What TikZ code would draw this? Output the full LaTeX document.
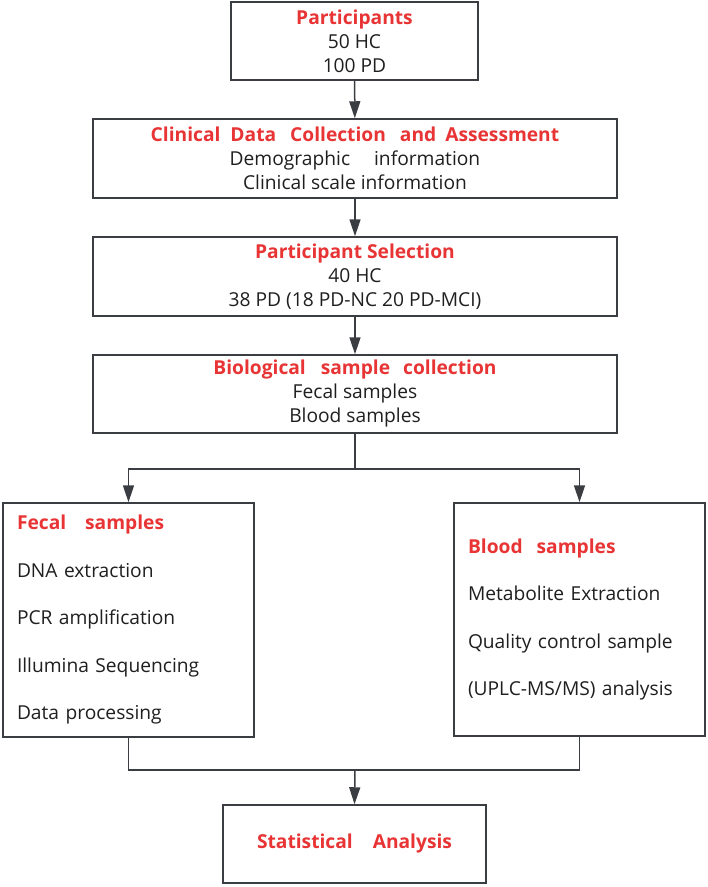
\documentclass[tikz,border=0pt]{standalone}
\usepackage{fontspec}
\setmainfont{Open Sans}
\usepackage{xcolor}
\usetikzlibrary{positioning, arrows.meta}
\definecolor{titlered}{RGB}{232,52,52}
\definecolor{linegray}{RGB}{58,62,66}
\newcommand{\boxtitle}[1]{{\bfseries\color{titlered}#1}}

\begin{document}
\begin{tikzpicture}[
 x=1pt, y=-1pt,
 stage/.style={rectangle, draw=linegray, line width=1.5pt, fill=white,
   minimum width=524pt, minimum height=79pt, align=center, inner sep=0pt,
   font=\fontsize{19.2}{24}\selectfont, text=black!88},
 branch/.style={rectangle, draw=linegray, line width=1.5pt, fill=white,
   text width=223pt, inner xsep=14pt, inner ysep=0pt, minimum height=234pt,
   align=left, font=\fontsize{19.2}{47.5}\selectfont, text=black!88},
 flow_edge/.style={-{Triangle[width=11pt,length=17pt]}, line width=1.5pt, draw=linegray},
 link_edge/.style={line width=1.5pt, draw=linegray}
]
\useasboundingbox (0,0) rectangle (708,887);

\node[stage, minimum width=247pt, minimum height=78pt] (part) at (354.5,41)
  {\boxtitle{Participants}\\50 HC\\100 PD};
\node[stage] (clin) at (355,158.5)
  {\boxtitle{Clinical\hspace{10pt}Data\hspace{14pt}Collection\hspace{14pt}and\hspace{9pt}Assessment}\\
   Demographic\hspace{24pt}information\\Clinical scale information};
\node[stage] (sel) at (355,276.5)
  {\boxtitle{Participant Selection}\\40 HC\\38 PD (18 PD-NC 20 PD-MCI)};
\node[stage, minimum height=78pt] (bio) at (355,394)
  {\boxtitle{Biological\hspace{15pt}sample\hspace{13pt}collection}\\Fecal samples\\Blood samples};

\node[branch] (fecal) at (128.5,620)
  {\boxtitle{Fecal\hspace{19pt}samples}\\DNA extraction\\PCR amplification\\Illumina Sequencing\\Data processing};
\node[branch, minimum height=233pt] (blood) at (579.5,619.5)
  {\boxtitle{Blood\hspace{14pt}samples}\\Metabolite Extraction\\Quality control sample\\(UPLC-MS/MS) analysis};

\node[stage, minimum width=263pt, minimum height=78pt] (stat) at (354.5,844)
  {\boxtitle{Statistical\hspace{20pt}Analysis}};

\coordinate (split) at (355,469);
\coordinate (join) at (355,770);

\draw[flow_edge] (part) -- (clin);
\draw[flow_edge] (clin) -- (sel);
\draw[flow_edge] (sel) -- (bio);
\draw[link_edge] (bio.south) -- (split);
\draw[flow_edge] (split) -| (fecal.north);
\draw[flow_edge] (split) -| (blood.north);
\draw[link_edge] (fecal.south) |- (join);
\draw[link_edge] (blood.south) |- (join);
\draw[flow_edge] (join) -- (stat.north);
\end{tikzpicture}
\end{document}
